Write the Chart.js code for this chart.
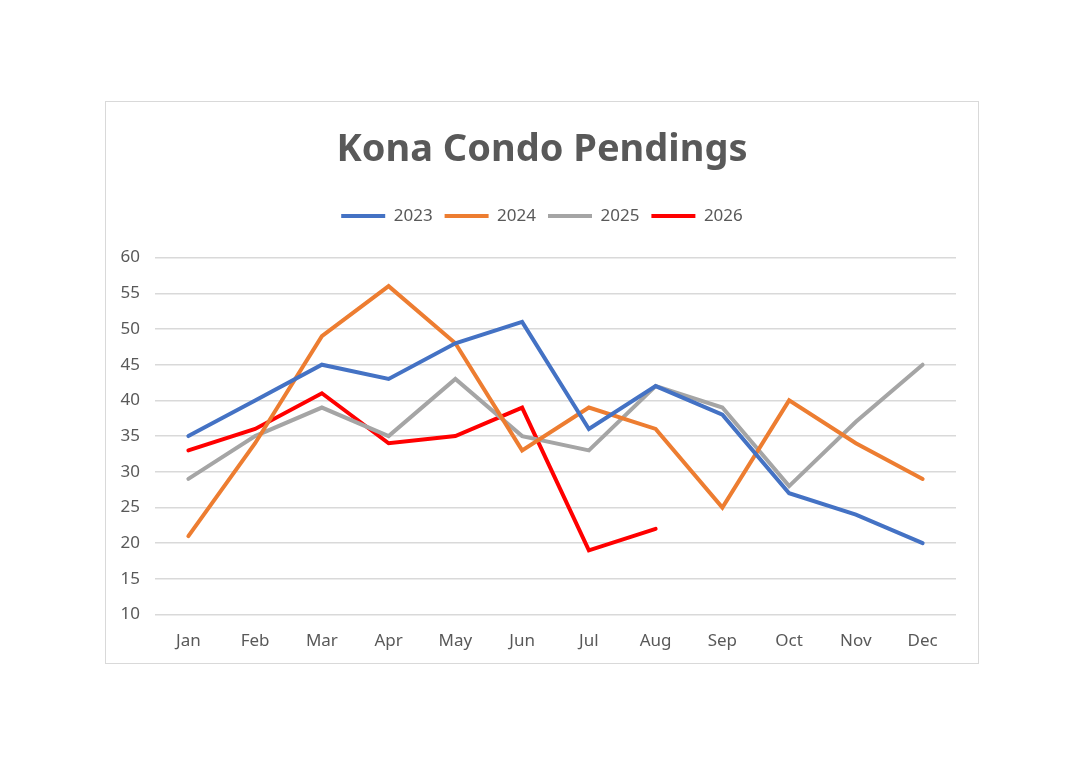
<!DOCTYPE html>
<html>
<head>
<meta charset="utf-8">
<script src="https://cdn.jsdelivr.net/npm/chart.js@4"></script>
<style>
  html, body { margin: 0; padding: 0; background: #fff; }
  #box {
    position: absolute; left: 105px; top: 101px;
    width: 872px; height: 561px;
    border: 1px solid #d9d9d9; background: #fff;
  }
</style>
</head>
<body>
<div id="box"><canvas id="myChart" width="872" height="561"></canvas></div>
<script>
var months = ['Jan', 'Feb', 'Mar', 'Apr', 'May', 'Jun', 'Jul', 'Aug', 'Sep', 'Oct', 'Nov', 'Dec'];
var y2023 = [35, 40, 45, 43, 48, 51, 36, 42, 38, 27, 24, 20];
var y2024 = [21, 34, 49, 56, 48, 33, 39, 36, 25, 40, 34, 29];
var y2025 = [29, 35, 39, 35, 43, 35, 33, 42, 39, 28, 37, 45];
var y2026 = [33, 36, 41, 34, 35, 39, 19, 22];

var textGrey = '#595959';

function series(label, data, color) {
    return {
        label: label,
        data: data,
        borderColor: color,
        backgroundColor: color,
        borderWidth: 4,
        borderCapStyle: 'round',
        borderJoinStyle: 'miter',
        pointRadius: 0,
        pointStyle: 'line',
        tension: 0
    };
}

// leave some room under the legend, like the original
var legendGap = {
    id: 'legendGap',
    beforeInit(chart) {
        var fit = chart.legend.fit;
        chart.legend.fit = function () {
            fit.bind(chart.legend)();
            this.height += 23;
        };
    }
};

var ctx = document.getElementById('myChart').getContext('2d');

var myChart = new Chart(ctx, {
    type: 'line',
    data: {
        labels: months,
        datasets: [
            series('2023', y2023, '#4472C4'),
            series('2024', y2024, '#ED7D31'),
            series('2025', y2025, '#A5A5A5'),
            series('2026', y2026, '#FF0000')
        ]
    },
    plugins: [legendGap],
    options: {
        responsive: false,
        animation: false,
        devicePixelRatio: 1,
        layout: {
            padding: { left: 12, right: 12, top: 0, bottom: -4 }
        },
        plugins: {
            title: {
                display: true,
                text: 'Kona Condo Pendings',
                color: textGrey,
                font: { family: 'Noto Sans', size: 38, weight: 'bold' },
                padding: { top: 25, bottom: 23 }
            },
            legend: {
                labels: {
                    usePointStyle: true,
                    pointStyleWidth: 44,
                    color: textGrey,
                    font: { family: 'Noto Sans', size: 17 },
                    padding: 12
                }
            },
            tooltip: { enabled: false }
        },
        scales: {
            x: {
                offset: true,
                grid: { display: false, drawTicks: false },
                border: { display: false },
                ticks: {
                    color: textGrey,
                    font: { family: 'Noto Sans', size: 17 },
                    padding: 16
                }
            },
            y: {
                min: 10,
                max: 60,
                afterFit: function (scale) { scale.width = 37; },
                grid: { color: '#d9d9d9', lineWidth: 1.5, drawTicks: false },
                border: { display: false },
                ticks: {
                    stepSize: 5,
                    color: textGrey,
                    font: { family: 'Noto Sans', size: 17 },
                    padding: 15
                }
            },
            // empty strip on the right so the plot ends where the original does
            spacer: {
                type: 'linear',
                position: 'right',
                afterFit: function (scale) { scale.width = 10; },
                grid: { display: false },
                border: { display: false },
                ticks: { display: false }
            }
        }
    }
});
</script>
</body>
</html>
